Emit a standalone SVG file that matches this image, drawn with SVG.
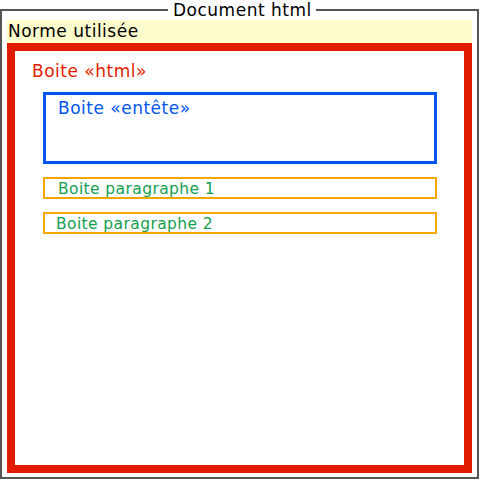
<svg xmlns="http://www.w3.org/2000/svg" width="480" height="480" viewBox="0 0 480 480">
<style>
text{font-family:"DejaVu Sans",Verdana,sans-serif}
.big{font-size:17px;letter-spacing:0.5px}
.small{font-size:15.5px;letter-spacing:0.4px;fill:#14a050}
.para{fill:#ffffff;stroke:#f5a800;stroke-width:2}
</style>
<rect width="480" height="480" fill="#ffffff"/>
<g id="document">
<path d="M168,10 H1 V478 H478 V10 H316" fill="none" stroke="#555555" stroke-width="2"/>
<text x="173" y="16" class="big" fill="#000000">Document html</text>
</g>
<g id="norme">
<rect x="7" y="20" width="465" height="23" fill="#fdfccc"/>
<text x="8" y="37" class="big" fill="#000000">Norme utilisée</text>
</g>
<g id="html">
<rect x="11" y="47" width="457" height="422" fill="#ffffff" stroke="#e21c00" stroke-width="8"/>
<text x="32" y="77" class="big" fill="#e21c00">Boite «html»</text>
</g>
<g id="entete">
<rect x="44.5" y="93.5" width="391" height="69" fill="#ffffff" stroke="#0055ee" stroke-width="3"/>
<text x="58" y="114" class="big" fill="#0055ee">Boite «entête»</text>
</g>
<g id="para1">
<rect x="44" y="178" width="392" height="20" class="para"/>
<text x="58" y="193.5" class="small">Boite paragraphe 1</text>
</g>
<g id="para2">
<rect x="44" y="213" width="392" height="20" class="para"/>
<text x="56" y="228.5" class="small">Boite paragraphe 2</text>
</g>
<g id="connectors"></g>
</svg>
